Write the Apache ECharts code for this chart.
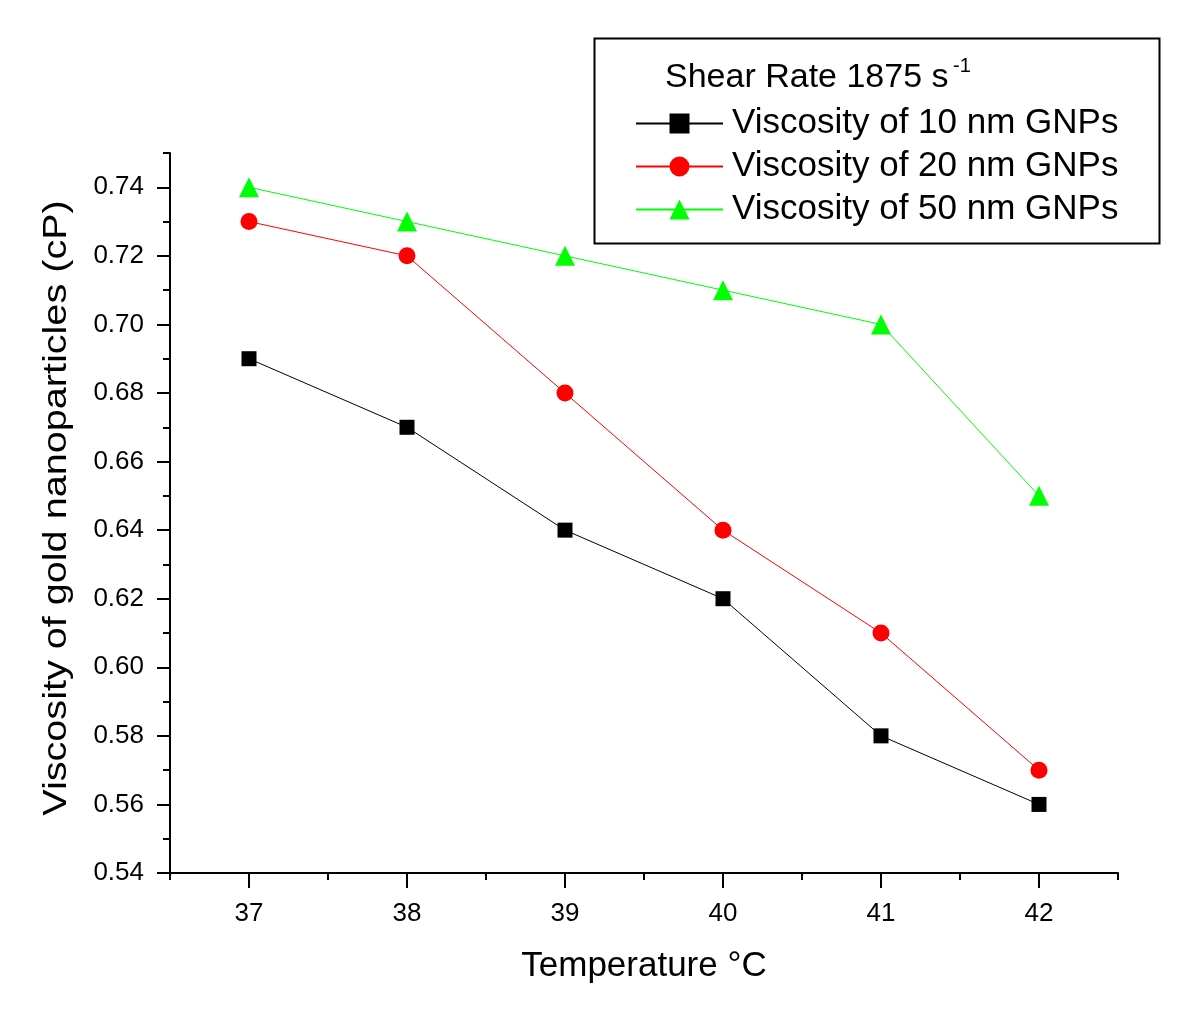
<!DOCTYPE html>
<html>
<head>
<meta charset="utf-8">
<script src="https://cdn.jsdelivr.net/npm/echarts@6/dist/echarts.min.js"></script>
<style>html,body{margin:0;padding:0;background:#fff}#c{width:1200px;height:1024px}</style>
</head>
<body>
<div id="c"></div>
<script>
const temperatures = [37, 38, 39, 40, 41, 42];
const visc10 = [0.69, 0.67, 0.64, 0.62, 0.58, 0.56];
const visc20 = [0.73, 0.72, 0.68, 0.64, 0.61, 0.57];
const visc50 = [0.74, 0.73, 0.72, 0.71, 0.70, 0.65];
const xTickLabels = [37, 38, 39, 40, 41, 42];
const yTickLabels = [0.54, 0.56, 0.58, 0.60, 0.62, 0.64, 0.66, 0.68, 0.70, 0.72, 0.74];
const seriesNames = ['Viscosity of 10 nm GNPs', 'Viscosity of 20 nm GNPs', 'Viscosity of 50 nm GNPs'];
const legendTitle = 'Shear Rate 1875 s';
const legendTitleSup = '-1';
const xTitle = 'Temperature °C';
const yTitle = 'Viscosity of gold nanoparticles (cP)';

const FONT = '"Liberation Sans", Arial, sans-serif';
const chart = echarts.init(document.getElementById('c'), null, {renderer: 'canvas'});

function pairs(ys) { return temperatures.map((t, i) => [t, ys[i]]); }

const axisLineStyle = {color: '#000', width: 2};

chart.setOption({
  backgroundColor: '#fff',
  animation: false,
  grid: {left: 170, right: 82, top: 153, bottom: 151, containLabel: false},
  xAxis: [
    {
      type: 'value', min: 36.5, max: 42.5, interval: 0.5,
      axisLine: {show: true, lineStyle: axisLineStyle},
      axisTick: {show: true, length: 15, lineStyle: {color: '#000', width: 2}, customValues: xTickLabels},
      axisLabel: {show: true, customValues: xTickLabels, fontSize: 26, color: '#000', fontFamily: FONT, margin: 28,
                  formatter: v => String(Math.round(v))},
      splitLine: {show: false},
      name: xTitle, nameLocation: 'middle', nameGap: 76,
      nameTextStyle: {fontSize: 35, color: '#000', fontFamily: FONT}
    },
    {
      type: 'value', min: 36.5, max: 42.5, interval: 0.5, position: 'bottom',
      axisLine: {show: false},
      axisTick: {show: true, length: 7, lineStyle: {color: '#000', width: 2}},
      axisLabel: {show: false},
      splitLine: {show: false}
    }
  ],
  yAxis: [
    {
      type: 'value', min: 0.54, max: 0.75, interval: 0.01,
      axisLine: {show: true, lineStyle: axisLineStyle},
      axisTick: {show: true, length: 13, lineStyle: {color: '#000', width: 2}, customValues: yTickLabels},
      axisLabel: {show: true, customValues: yTickLabels, fontSize: 26, color: '#000', fontFamily: FONT, margin: 26,
                  formatter: v => v.toFixed(2)},
      splitLine: {show: false}
    },
    {
      type: 'value', min: 0.54, max: 0.75, interval: 0.01, position: 'left',
      axisLine: {show: false},
      axisTick: {show: true, length: 7, lineStyle: {color: '#000', width: 2}},
      axisLabel: {show: false},
      splitLine: {show: false}
    }
  ],
  legend: {
    orient: 'vertical', left: 635, top: 106, itemWidth: 87, itemHeight: 25, itemGap: 8,
    padding: 0,
    textStyle: {fontSize: 35, color: '#000', fontFamily: FONT, padding: [0, 0, 0, 4]},
    data: seriesNames
  },
  graphic: [
    {type: 'rect', left: 592, top: 36, shape: {width: 565, height: 205},
     style: {fill: 'none', stroke: '#000', lineWidth: 2}, z: 0},
    {type: 'text', left: 665, top: 61, style: {text: legendTitle, font: '34px ' + FONT, fill: '#000'}},
    {type: 'text', left: 953, top: 56, style: {text: legendTitleSup, font: '20px ' + FONT, fill: '#000'}},
    {type: 'text', x: 57, y: 508, rotation: Math.PI / 2, scaleX: 1.2,
     style: {text: yTitle, font: '33px ' + FONT, fill: '#000', textAlign: 'center', textVerticalAlign: 'middle'}}
  ],
  series: [
    {name: seriesNames[0], type: 'line', data: pairs(visc10), symbol: 'rect', symbolSize: 15,
     itemStyle: {color: '#000'}, lineStyle: {color: '#000', width: 1}, z: 3},
    {name: seriesNames[1], type: 'line', data: pairs(visc20), symbol: 'circle', symbolSize: 17,
     itemStyle: {color: '#ff0000'}, lineStyle: {color: '#ff0000', width: 1}, z: 3},
    {name: seriesNames[2], type: 'line', data: pairs(visc50), symbol: 'triangle', symbolSize: 20,
     itemStyle: {color: '#00ff00'}, lineStyle: {color: '#00ff00', width: 1}, z: 3}
  ]
});
</script>
</body>
</html>
